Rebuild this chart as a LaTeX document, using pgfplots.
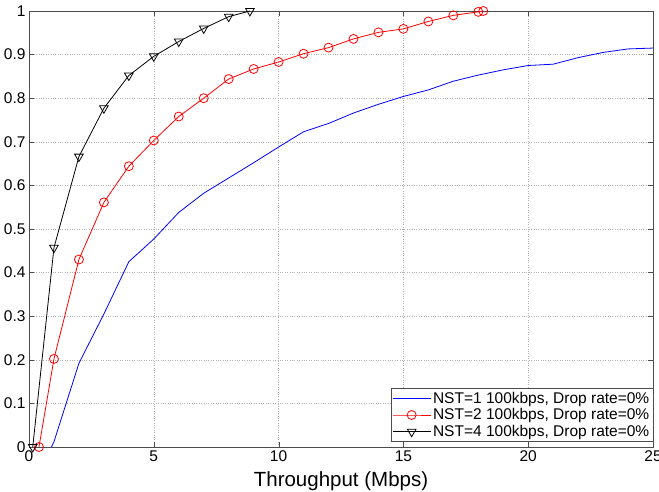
\documentclass[border=0pt]{standalone}
\usepackage{fontspec}
\setmainfont{Liberation Sans}
\usepackage{pgfplots}
\pgfplotsset{compat=1.18}

\begin{document}
\begin{tikzpicture}
\begin{axis}[
  scale only axis,
  width=624bp, height=436bp,
  xmin=0, xmax=25, ymin=0, ymax=1,
  xtick={0,5,...,25},
  ytick={0,0.1,...,1},
  yticklabel style={/pgf/number format/fixed},
  /pgf/number format/assume math mode=true,
  tick label style={font=\fontsize{15.5bp}{17bp}\selectfont},
  xlabel={Throughput (Mbps)},
  xlabel style={font=\fontsize{20.5bp}{22bp}\selectfont, yshift=-3bp},
  tick align=inside,
  major tick length=5bp,
  axis line style={black!70},
  tick style={black!70},
  grid=major,
  major grid style={gray!60, dotted},
  legend style={at={(1,0.012)}, anchor=south east, draw=black!70,
    font=\fontsize{15.5bp}{17bp}\selectfont, inner sep=1.5bp,
    row sep=0bp},
  legend cell align=left,
  legend image code/.code={
    \draw[mark repeat=2, mark phase=2] plot coordinates {(0bp,0bp) (19bp,0bp) (38bp,0bp)};
  },
  every axis plot/.append style={line width=0.8pt},
]
\addplot[blue, mark=none] coordinates {
 (0.9,0) (1.0,0.012) (2,0.192) (3,0.305) (4,0.425) (5,0.477) (6,0.538)
 (7,0.582) (8,0.617) (9,0.652) (10,0.688) (11,0.723) (12,0.742) (13,0.766)
 (14,0.786) (15,0.804) (16,0.819) (17,0.839) (18,0.853) (19,0.865)
 (20,0.875) (21,0.878) (22,0.893) (23,0.905) (24,0.913) (25,0.915)
};
\addlegendentry{NST=1 100kbps, Drop rate=0\%}
\addplot[red, mark=o, mark size=4.5bp, mark options={solid}] coordinates {
 (0.4,0) (1,0.202) (2,0.43) (3,0.561) (4,0.644) (5,0.703) (6,0.758)
 (7,0.8) (8,0.844) (9,0.867) (10,0.883) (11,0.902) (12,0.916) (13,0.936)
 (14,0.951) (15,0.959) (16,0.976) (17,0.99) (18,0.998) (18.2,1.0)
};
\addlegendentry{NST=2 100kbps, Drop rate=0\%}
\addplot[black, mark=triangle, mark size=5bp, mark options={solid, rotate=180}] coordinates {
 (0.15,0) (1,0.457) (2,0.666) (3,0.777) (4,0.852) (5,0.896) (6,0.93)
 (7,0.96) (8,0.987) (8.85,1.0)
};
\addlegendentry{NST=4 100kbps, Drop rate=0\%}
\coordinate (sw) at (rel axis cs:0,0);
\coordinate (ne) at (rel axis cs:1,1);
\end{axis}
\pgfresetboundingbox
\path ([shift={(-29bp,-45bp)}]sw) rectangle ([shift={(6bp,11bp)}]ne);
\end{tikzpicture}
\end{document}
